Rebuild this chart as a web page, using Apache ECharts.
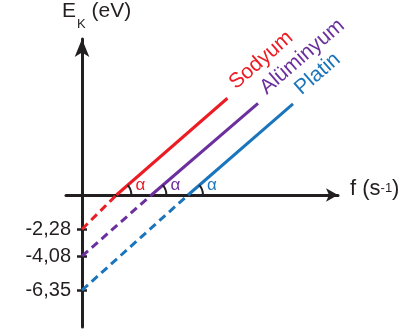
<!DOCTYPE html>
<html>
<head>
<meta charset="utf-8">
<script src="https://cdn.jsdelivr.net/npm/echarts@6/dist/echarts.min.js"></script>
<style>
html, body { margin: 0; padding: 0; background: #fff; }
#main { width: 414px; height: 333px; }
</style>
</head>
<body>
<div id="main"></div>
<script>
// metals and their line colours
var metals = ['Sodyum', 'Alüminyum', 'Platin'];
var colors = ['#ec1c24', '#6b2f9e', '#1b75bc'];
// y-intercepts (eV)
var workFn = [2.28, 4.08, 6.35];
// threshold frequency (where Ek = 0), arbitrary units
var threshold = [3.44, 6.94, 10.6];
// end of the solid part of each line
var endF = [14.54, 17.6, 21.1];
var endE = [6.45, 6.11, 6.07];
// tick values on the energy axis
var yTicks = [-2.28, -4.08, -6.35];

var FONT = '"Liberation Sans", Arial, sans-serif';
var INK = '#231f20';

// angle arcs, alpha marks and rotated metal names
function drawAngles(params, api) {
	var i = params.dataIndex;
	var p0 = api.coord([api.value(0), api.value(1)]);
	var p1 = api.coord([api.value(2), api.value(3)]);
	var ang = Math.atan2(p0[1] - p1[1], p1[0] - p0[0]);
	var ux = Math.cos(ang), uy = -Math.sin(ang);
	var dx = Math.sin(ang), dy = Math.cos(ang);
	return {
		type: 'group',
		children: [{
			type: 'arc',
			shape: { cx: p0[0], cy: p0[1], r: 15, startAngle: -ang, endAngle: 0, clockwise: true },
			style: { stroke: INK, lineWidth: 2, fill: 'none' }
		}, {
			type: 'text',
			x: p0[0] + 24,
			y: p0[1] - 10,
			style: { text: 'α', fill: colors[i], fontSize: 17, fontFamily: FONT, align: 'center', verticalAlign: 'middle' }
		}, {
			type: 'text',
			x: p1[0] + 12 * ux + 4 * dx,
			y: p1[1] + 12 * uy + 4 * dy,
			rotation: ang,
			style: { text: metals[i], fill: colors[i], fontSize: 21, fontFamily: FONT, align: 'left', verticalAlign: 'bottom' }
		}]
	};
}

var series = [];
metals.forEach(function (m, i) {
	series.push({
		type: 'line',
		data: [[0, -workFn[i]], [threshold[i], 0]],
		symbol: 'none',
		lineStyle: { color: colors[i], width: 3, type: [8, 5] },
		z: 3
	});
	series.push({
		type: 'line',
		name: m,
		data: [[threshold[i], 0], [endF[i], endE[i]]],
		symbol: 'none',
		lineStyle: { color: colors[i], width: 3 },
		z: 3
	});
});
series.push({
	type: 'custom',
	renderItem: drawAngles,
	data: metals.map(function (m, i) { return [threshold[i], 0, endF[i], endE[i]]; }),
	z: 4
});

var myChart = echarts.init(document.getElementById('main'));
var option = {
	animation: false,
	grid: { left: 66, right: 76, top: 39, bottom: 6, containLabel: false, outerBoundsMode: 'none' },
	xAxis: {
		type: 'value',
		min: -1.6,
		max: 25.6,
		axisLine: { onZero: true, lineStyle: { color: INK, width: 3 }, symbol: ['none', 'arrow'], symbolSize: [10, 12] },
		axisTick: { show: false },
		axisLabel: { show: false },
		splitLine: { show: false }
	},
	yAxis: [{
		type: 'value',
		min: -8.8,
		max: 10.4,
		position: 'left',
		axisLine: { onZero: true, lineStyle: { color: INK, width: 3 }, symbol: ['none', 'arrow'], symbolSize: [11, 18] },
		axisTick: { show: true, customValues: yTicks, length: 5, lineStyle: { color: INK, width: 2.5 } },
		axisLabel: {
			customValues: yTicks,
			margin: -5,
			fontSize: 20,
			fontFamily: FONT,
			color: INK,
			formatter: function (v) { return v.toFixed(2).replace('.', ','); }
		},
		splitLine: { show: false }
	}, {
		type: 'value',
		min: -8.8,
		max: 10.4,
		position: 'left',
		axisLine: { show: false, onZero: true, onZeroAxisIndex: 0 },
		axisTick: { show: true, inside: true, customValues: yTicks, length: 5, lineStyle: { color: INK, width: 2.5 } },
		axisLabel: { show: false },
		splitLine: { show: false }
	}],
	graphic: [{
		type: 'text',
		left: 62,
		top: 1,
		style: {
			text: '{a|E}{k|K}{a| (eV)}',
			rich: {
				a: { fontSize: 21, fontFamily: FONT, fill: INK, lineHeight: 24, verticalAlign: 'top' },
				k: { fontSize: 13, fontFamily: FONT, fill: INK, lineHeight: 12, verticalAlign: 'top', padding: [17, 0, 0, 1] }
			}
		}
	}, {
		type: 'text',
		left: 350,
		top: 178,
		style: {
			text: '{a|f (s}{s|-1}{a|)}',
			rich: {
				a: { fontSize: 22, fontFamily: FONT, fill: INK, lineHeight: 25, verticalAlign: 'top' },
				s: { fontSize: 13, fontFamily: FONT, fill: INK, lineHeight: 13, verticalAlign: 'top', padding: [4, 0, 0, 0] }
			}
		}
	}],
	series: series
};
myChart.setOption(option);
</script>
</body>
</html>
